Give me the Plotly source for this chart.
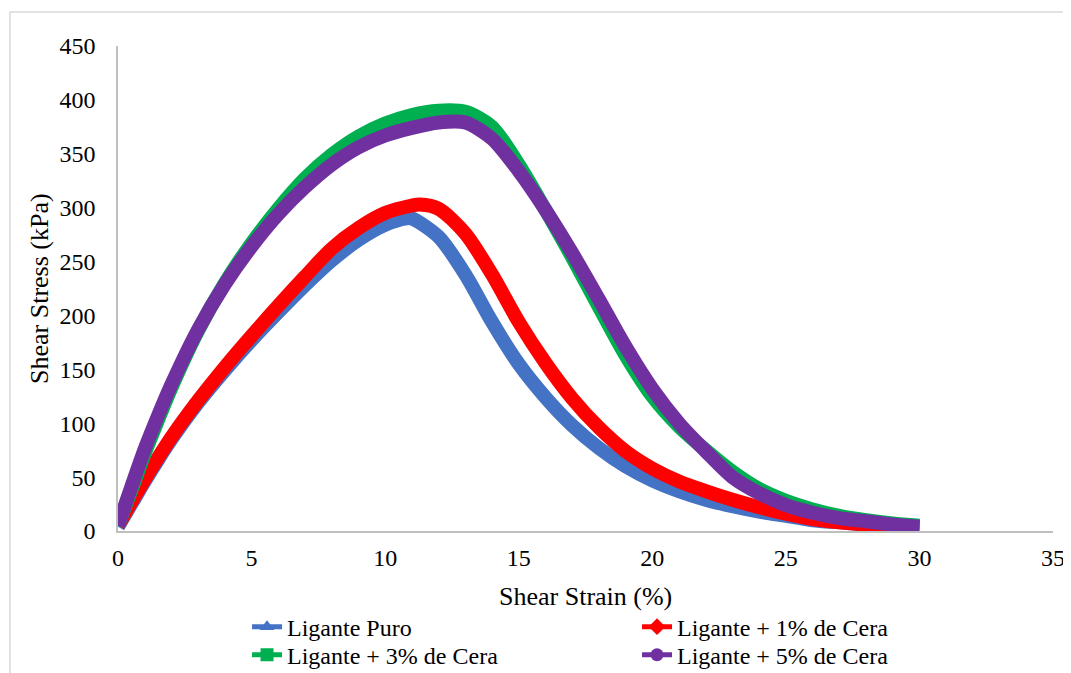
import plotly.graph_objects as go

# ---------------- data ----------------
strain_puro = [0, 0.5, 1, 1.5, 2, 3, 4, 5, 6, 7, 8, 9, 10, 10.8, 11, 12, 13, 14, 15, 16,
               17, 18, 19, 20, 21, 22, 23, 24, 25, 26, 27, 28, 29, 30]
stress_puro = [4, 25, 46, 66, 85, 119, 149, 177, 203, 228, 251, 270, 284, 290, 290, 273, 238, 194, 155, 124,
               98, 77, 60, 47, 37, 29, 23, 18, 14, 10, 8, 6, 4, 3]

strain_1 = [0, 0.5, 1, 1.5, 2, 3, 4, 5, 6, 7, 8, 9, 10, 11, 11.3, 12, 13, 14, 15, 16,
            17, 18, 19, 20, 21, 22, 23, 24, 25, 26, 27, 28, 29, 30]
stress_1 = [5, 27, 48, 68, 87, 121, 152, 181, 209, 236, 262, 281, 295, 302, 303, 299, 276, 238, 194, 156,
            123, 96, 74, 58, 46, 37, 29, 22, 16, 11, 8, 6, 4, 3]

strain_3 = [0, 0.5, 1, 1.5, 2, 3, 4, 5, 6, 7, 8, 9, 10, 11, 12, 13, 14, 15, 16,
            17, 18, 19, 20, 21, 22, 23, 24, 25, 26, 27, 28, 29, 30]
stress_3 = [5, 38, 72, 103, 133, 186, 230, 267, 299, 327, 349, 366, 378, 386, 390, 389, 375, 340, 298,
            254, 208, 163, 125, 97, 75, 55, 39, 28, 20, 14, 10, 7, 5]

strain_5 = [0, 0.5, 1, 1.5, 2, 3, 4, 5, 6, 7, 8, 9, 10, 11, 12, 13, 14, 15, 16,
            17, 18, 19, 20, 21, 22, 23, 24, 25, 26, 27, 28, 29, 30]
stress_5 = [5, 41, 76, 107, 136, 187, 229, 264, 294, 319, 340, 356, 367, 374, 379, 379, 364, 334, 298,
            258, 215, 171, 132, 100, 74, 50, 35, 24, 17, 12, 9, 6, 4]

series_names = ["Ligante Puro", "Ligante + 1% de Cera", "Ligante + 3% de Cera", "Ligante + 5% de Cera"]
x_ticks = [0, 5, 10, 15, 20, 25, 30, 35]
y_ticks = [0, 50, 100, 150, 200, 250, 300, 350, 400, 450]

colors = ["#4472C4", "#FF0000", "#00B050", "#7030A0"]
symbols = ["triangle-up", "diamond", "square", "circle"]
FONT = "Liberation Serif, Times New Roman, serif"

fig = go.Figure()
for xs, ys, name, c, s in zip([strain_puro, strain_1, strain_3, strain_5],
                              [stress_puro, stress_1, stress_3, stress_5],
                              series_names, colors, symbols):
    fig.add_trace(go.Scatter(
        x=xs, y=ys, name=name, mode="lines", showlegend=False,
        line=dict(color=c, width=14, shape="spline", smoothing=0.8),
    ))

# legend entries (two rows, two legends)
legend_ids = ["legend", "legend", "legend2", "legend2"]
for name, c, s, lg in zip(series_names, colors, symbols, legend_ids):
    fig.add_trace(go.Scatter(
        x=[None], y=[None], name=name, mode="lines+markers", legend=lg,
        line=dict(color=c, width=5), marker=dict(symbol=s, size=13, color=c),
    ))

legend_common = dict(
    orientation="h", xanchor="left", yanchor="middle", x=0.138,
    entrywidth=345, entrywidthmode="pixels",
    font=dict(family=FONT, size=24, color="black"),
    bgcolor="rgba(0,0,0,0)",
)

fig.update_layout(
    width=1063, height=665,
    margin=dict(l=110, r=18, t=38, b=142, autoexpand=False),
    paper_bgcolor="white", plot_bgcolor="white",
    font=dict(family=FONT, size=24, color="black"),
    showlegend=True,
    legend=dict(y=-0.198, **legend_common),
    legend2=dict(y=-0.256, **legend_common),
    xaxis=dict(
        range=[0, 35], tickvals=x_ticks, ticktext=[str(v) for v in x_ticks],
        showgrid=False, zeroline=False, showline=True, linecolor="#BFBFBF", linewidth=1.5,
        ticks="", ticklabelstandoff=4, ticklabeloverflow="allow",
        tickfont=dict(family=FONT, size=24),
    ),
    yaxis=dict(
        range=[0, 450], tickvals=y_ticks, ticktext=[str(v) for v in y_ticks],
        showgrid=False, zeroline=False, showline=True, linecolor="#BFBFBF", linewidth=1.5,
        ticks="", ticklabelstandoff=16, tickfont=dict(family=FONT, size=24),
    ),
    annotations=[
        dict(text="Shear Strain (%)", xref="paper", yref="paper", x=0.5, y=-0.136,
             xanchor="center", yanchor="middle", showarrow=False,
             font=dict(family=FONT, size=26, color="black")),
        dict(text="Shear Stress (kPa)", xref="paper", yref="paper", x=-0.0834, y=0.499,
             xanchor="center", yanchor="middle", showarrow=False, textangle=-90,
             font=dict(family=FONT, size=26, color="black")),
    ],
    shapes=[
        dict(type="rect", xref="paper", yref="paper", x0=-0.1155, y0=-0.6, x1=1.3, y1=1.0701,
             line=dict(color="#D9D9D9", width=1.5), fillcolor="rgba(0,0,0,0)", layer="below"),
    ],
)

fig.write_html("out.html")
